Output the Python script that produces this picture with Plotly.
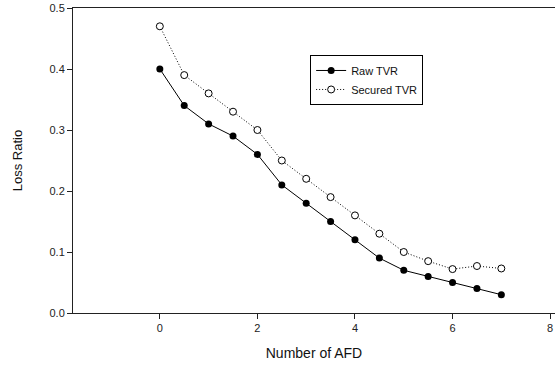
import plotly.graph_objects as go

afd = [0, 0.5, 1, 1.5, 2, 2.5, 3, 3.5, 4, 4.5, 5, 5.5, 6, 6.5, 7]
raw_tvr = [0.40, 0.34, 0.31, 0.29, 0.26, 0.21, 0.18, 0.15, 0.12, 0.09, 0.07, 0.06, 0.05, 0.04, 0.03]
secured_tvr = [0.47, 0.39, 0.36, 0.33, 0.30, 0.25, 0.22, 0.19, 0.16, 0.13, 0.10, 0.085, 0.072, 0.077, 0.073]

FONT = "Liberation Sans, Arial, sans-serif"

fig = go.Figure()
fig.add_trace(go.Scatter(
    x=afd, y=raw_tvr, name="Raw TVR", mode="lines+markers",
    line=dict(color="black", width=1),
    marker=dict(symbol="circle", size=7, color="black"),
))
fig.add_trace(go.Scatter(
    x=afd, y=secured_tvr, name="Secured TVR", mode="lines+markers",
    line=dict(color="black", width=1, dash="1px,2px"),
    marker=dict(symbol="circle", size=7, color="white", line=dict(color="black", width=1)),
))

fig.update_layout(
    width=555, height=370,
    margin=dict(l=73, r=0, t=8, b=57, autoexpand=False),
    paper_bgcolor="white", plot_bgcolor="white",
    font=dict(family=FONT, size=11, color="#222"),
    showlegend=True,
    legend=dict(x=0.492, y=0.846, xanchor="left", yanchor="top",
                bordercolor="black", borderwidth=1, bgcolor="white",
                font=dict(size=11, color="#111"), tracegroupgap=0,
                itemwidth=30),
    xaxis=dict(range=[-1.78, 8.1], tickvals=[0, 2, 4, 6, 8], ticks="outside",
               ticklen=5, tickcolor="#222", showgrid=False, zeroline=False,
               showline=True, linecolor="#222", linewidth=1, mirror=True,
               automargin=False, ticklabeloverflow="allow",
               tickfont=dict(size=11, color="#222"),
               title=dict(text="Number of AFD", font=dict(size=14, color="#111"), standoff=14)),
    yaxis=dict(range=[0, 0.5], tickvals=[0, 0.1, 0.2, 0.3, 0.4, 0.5], tickformat=".1f",
               ticks="outside", ticklen=5, tickcolor="#222", showgrid=False, zeroline=False,
               showline=True, linecolor="#222", linewidth=1, automargin=False,
               ticklabeloverflow="allow",
               tickfont=dict(size=11, color="#222"),
               title=dict(text="Loss Ratio", font=dict(size=13, color="#111"), standoff=23)),
)

fig.write_html(
    "out.html",
    config={"displayModeBar": False},
    post_script="document.body.style.margin='0';document.documentElement.style.overflow='hidden';",
)
